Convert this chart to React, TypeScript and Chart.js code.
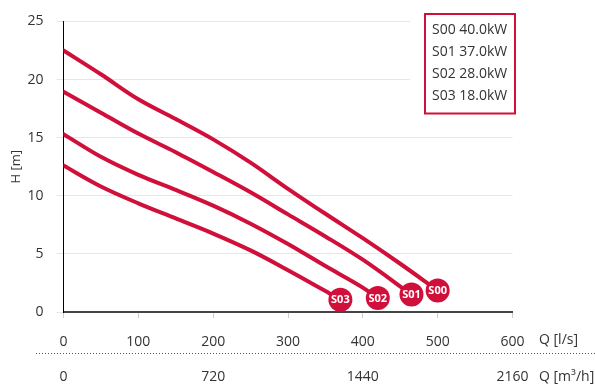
import React, { useEffect, useRef } from "react";
import { Chart, registerables } from "chart.js";

Chart.register(...registerables);

const SERIES = ["S00", "S01", "S02", "S03"];
const POWER = ["40.0kW", "37.0kW", "28.0kW", "18.0kW"];

const S00_Q = [0, 50, 100, 150, 200, 250, 300, 350, 400, 450, 500];
const S00_H = [22.5, 20.45, 18.3, 16.6, 14.85, 12.85, 10.6, 8.45, 6.35, 4.15, 1.85];

const S01_Q = [0, 50, 100, 150, 200, 250, 300, 350, 400, 465];
const S01_H = [18.95, 17.15, 15.35, 13.75, 12.05, 10.3, 8.4, 6.5, 4.5, 1.5];

const S02_Q = [0, 50, 100, 150, 200, 250, 300, 350, 400, 420];
const S02_H = [15.3, 13.35, 11.8, 10.5, 9.15, 7.6, 5.85, 3.95, 2.1, 1.2];

const S03_Q = [0, 50, 100, 150, 200, 250, 300, 350, 370];
const S03_H = [12.6, 10.8, 9.35, 8.05, 6.75, 5.3, 3.6, 1.8, 1.05];

const Q_LS_MIN = 0;
const Q_LS_MAX = 600;
const Q_LS_STEP = 100;
const Q_M3H_MAX = 2160;
const Q_M3H_STEP = 720;
const H_MAX = 25;
const H_STEP = 5;

const RED = "#d0103a";
const TEXT = "#333333";
const FONT = "'Open Sans', sans-serif";

const pts = (q: number[], h: number[]) => q.map((x, i) => ({ x, y: h[i] }));

export default function App() {
  const ref = useRef<HTMLCanvasElement | null>(null);

  useEffect(() => {
    if (!ref.current) return;

    const overlay = {
      id: "overlay",
      afterDatasetsDraw(chart: any) {
        const ctx = chart.ctx;
        ctx.save();
        chart.data.datasets.forEach((ds: any, i: number) => {
          const meta = chart.getDatasetMeta(i);
          const el = meta.data[meta.data.length - 1];
          if (!el) return;
          ctx.beginPath();
          ctx.arc(el.x, el.y, 12, 0, Math.PI * 2);
          ctx.fillStyle = RED;
          ctx.fill();
          ctx.fillStyle = "#ffffff";
          ctx.font = `bold 11px ${FONT}`;
          ctx.textAlign = "center";
          ctx.textBaseline = "middle";
          ctx.fillText(SERIES[i], el.x, el.y + 0.5);
        });
        ctx.restore();
      },
      afterDraw(chart: any) {
        const ctx = chart.ctx;
        ctx.save();
        ctx.fillStyle = "#ffffff";
        ctx.fillRect(410, 0, 130, 122);
        ctx.strokeStyle = RED;
        ctx.lineWidth = 2;
        ctx.strokeRect(425, 14, 90, 99.5);
        ctx.fillStyle = TEXT;
        ctx.font = `14px ${FONT}`;
        ctx.textAlign = "left";
        ctx.textBaseline = "middle";
        SERIES.forEach((s, i) => {
          ctx.fillText(`${s} ${POWER[i]}`, 432, 30 + i * 22);
        });
        ctx.beginPath();
        ctx.setLineDash([1, 2]);
        ctx.strokeStyle = "#555555";
        ctx.lineWidth = 1;
        ctx.moveTo(36, 353.5);
        ctx.lineTo(595, 353.5);
        ctx.stroke();
        ctx.setLineDash([]);
        ctx.fillStyle = TEXT;
        ctx.font = `14px ${FONT}`;
        ctx.textAlign = "left";
        ctx.textBaseline = "middle";
        ctx.fillText("Q [l/s]", 539, 340);
        ctx.fillText("Q [m³/h]", 539, 377);
        ctx.restore();
      },
    };

    const chart = new Chart(ref.current, {
      type: "line",
      data: {
        datasets: [
          { label: SERIES[0], data: pts(S00_Q, S00_H) },
          { label: SERIES[1], data: pts(S01_Q, S01_H) },
          { label: SERIES[2], data: pts(S02_Q, S02_H) },
          { label: SERIES[3], data: pts(S03_Q, S03_H) },
        ].map((d) => ({
          ...d,
          borderColor: RED,
          borderWidth: 4,
          pointRadius: 0,
          fill: false,
          tension: 0.4,
          cubicInterpolationMode: "monotone" as const,
          borderCapStyle: "round" as const,
        })),
      },
      options: {
        responsive: false,
        animation: false,
        layout: { padding: { left: 0, right: 82.5, top: 13, bottom: 0 } },
        plugins: {
          legend: { display: false },
          tooltip: { enabled: false },
        },
        scales: {
          x: {
            type: "linear",
            position: "bottom",
            weight: 0,
            min: Q_LS_MIN,
            max: Q_LS_MAX,
            ticks: {
              stepSize: Q_LS_STEP,
              color: TEXT,
              font: { family: FONT, size: 14 },
              padding: 16,
              maxRotation: 0,
              callback: (v: any) => String(v),
            },
            grid: {
              drawOnChartArea: false,
              color: "#cccccc",
              tickLength: 6,
            },
            border: { color: "#444444", width: 2 },
            afterFit: (s: any) => {
              s.height = 40;
            },
          },
          x2: {
            type: "linear",
            position: "bottom",
            weight: 1,
            min: 0,
            max: Q_M3H_MAX,
            ticks: {
              stepSize: Q_M3H_STEP,
              color: TEXT,
              font: { family: FONT, size: 14 },
              padding: 17,
              maxRotation: 0,
              callback: (v: any) => String(v),
            },
            grid: { display: false, drawTicks: false },
            border: { display: false },
            afterFit: (s: any) => {
              s.height = 35;
            },
          },
          y: {
            type: "linear",
            min: 0,
            max: H_MAX,
            ticks: {
              stepSize: H_STEP,
              color: TEXT,
              font: { family: FONT, size: 14 },
              padding: 13,
            },
            grid: { color: "#e6e6e6", tickLength: 7 },
            border: { color: "#000000", width: 1 },
            title: {
              display: true,
              text: "H [m]",
              color: TEXT,
              font: { family: FONT, size: 13 },
              padding: { top: 8, bottom: 0 },
            },
            afterFit: (s: any) => {
              s.width = 63.5;
            },
          },
        },
      },
      plugins: [overlay],
    });

    return () => chart.destroy();
  }, []);

  return (
    <div style={{ position: "fixed", left: 0, top: 0, width: 595, height: 387, background: "#fff" }}>
      <canvas ref={ref} width={595} height={387} />
    </div>
  );
}
